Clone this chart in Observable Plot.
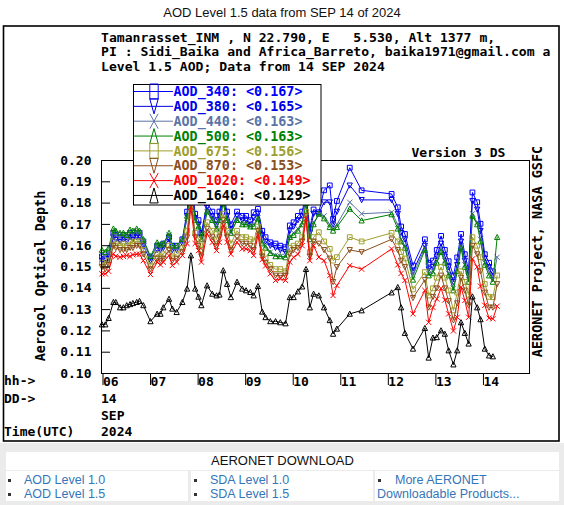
<!DOCTYPE html>
<html>
<head>
<meta charset="utf-8">
<script src="https://cdn.jsdelivr.net/npm/d3@7"></script>
<script src="https://cdn.jsdelivr.net/npm/@observablehq/plot@0.6"></script>
<style>
  body { margin:0; background:#fff; width:564px; height:505px; overflow:hidden; position:relative; }
  #title { position:absolute; left:0; top:5px; width:564px; text-align:center; font:13px 'Liberation Sans', Arial, sans-serif; line-height:15px; color:#111; }
  #chart { position:absolute; left:0; top:25px; }
  #dl { position:absolute; left:0; top:443px; width:564px; height:62px; background:#ebebeb; font-family:'Liberation Sans', Arial, sans-serif; font-size:12.5px; }
  #dl .hd { position:absolute; left:6px; top:9px; width:553px; height:18px; background:#fff; text-align:center; line-height:18px; color:#111; font-size:13px; }
  #dl .cell { position:absolute; top:28px; height:30px; background:#fff; }
  #dl .t { position:absolute; color:#3576b8; white-space:nowrap; line-height:13px; }
  #dl .b { position:absolute; width:3px; height:3px; background:#333; }
</style>
</head>
<body>
<div id="title">AOD Level 1.5 data from SEP 14 of 2024</div>
<div id="chart"></div>
<div id="dl">
  <div class="hd">AERONET DOWNLOAD</div>
  <div class="cell" style="left:6px;width:182px">
    <div class="b" style="left:2px;top:8px"></div><div class="t" style="left:18px;top:3px">AOD Level 1.0</div>
    <div class="b" style="left:2px;top:22px"></div><div class="t" style="left:18px;top:17px">AOD Level 1.5</div>
  </div>
  <div class="cell" style="left:191px;width:182px">
    <div class="b" style="left:3px;top:8px"></div><div class="t" style="left:19px;top:3px">SDA Level 1.0</div>
    <div class="b" style="left:3px;top:22px"></div><div class="t" style="left:19px;top:17px">SDA Level 1.5</div>
  </div>
  <div class="cell" style="left:375px;width:184px">
    <div class="b" style="left:3px;top:8px"></div><div class="t" style="left:20px;top:3px">More AERONET</div>
    <div class="t" style="left:2px;top:17px">Downloadable Products...</div>
  </div>
</div>
<script>
// ---------- data ----------
const times = [6.01,6.08,6.15,6.25,6.30,6.39,6.46,6.53,6.60,6.66,6.74,6.80,6.88,7.03,7.17,7.24,7.30,7.42,7.49,7.58,7.70,7.80,7.88,7.97,8.04,8.10,8.22,8.33,8.42,8.48,8.56,8.64,8.72,8.85,8.96,9.04,9.13,9.20,9.29,9.38,9.45,9.55,9.66,9.76,9.87,9.96,10.04,10.13,10.22,10.30,10.38,10.46,10.57,10.68,10.80,10.87,10.95,11.22,11.47,12.10,12.23,12.30,12.38,12.55,12.80,12.88,12.97,13.05,13.14,13.22,13.30,13.40,13.48,13.56,13.64,13.72,13.80,13.90,13.97,14.06,14.15,14.23,14.32];
const aod340 = [.155,.154,.156,.166,.165,.164,.165,.164,.166,.165,.166,.166,.162,.1546,.160,.160,.161,.164,.160,.160,.163,.176,.192,.175,.172,.166,.180,.176,.172,.176,.184,.176,.170,.176,.174,.174,.172,.1757,.1773,.167,.164,.1616,.161,.160,.1593,.1695,.171,.174,.176,.184,.168,.177,.1757,.186,.1883,.1726,.181,.1966,.186,.1843,.178,.169,.1655,.1507,.163,.152,.153,.158,.1646,.158,.1527,.146,.1545,.1655,.156,.1484,.185,.1804,.1703,.156,.152,.148,null];
const aod380 = [.153,.152,.154,.164,.163,.162,.163,.162,.164,.163,.164,.164,.160,.153,.158,.158,.159,.163,.158,.158,.161,.174,.190,.173,.170,.164,.178,.174,.170,.174,.182,.174,.168,.174,.172,.172,.170,.173,.175,.165,.162,.160,.159,.158,.157,.167,.169,.172,.174,.182,.166,.175,.175,.1804,.1804,.170,.176,.1883,.1815,.1815,.175,.166,.163,.148,.160,.149,.150,.155,.161,.155,.150,.143,.151,.162,.153,.146,.181,.177,.167,.154,.150,.146,null];
const aod440 = [.156,.155,.157,.166,.165,.164,.165,.164,.166,.165,.167,.166,.162,.154,.160,.159,.160,.165,.159,.159,.162,.173,.188,.172,.169,.163,.176,.172,.168,.172,.180,.172,.166,.172,.170,.170,.169,.170,.173,.162,.160,.157,.1555,.155,.155,.164,.166,.168,.171,.180,.164,.171,.1745,.174,.170,.168,.170,.1804,.175,.1757,.170,.163,.160,.146,.159,.147,.148,.153,.159,.153,.147,.140,.149,.160,.151,.144,.175,.171,.163,.152,.148,.144,.1546];
const aod500 = [.158,.157,.159,.168,.167,.166,.166,.165,.1675,.167,.168,.167,.163,.155,.1615,.1605,.161,.166,.160,.160,.163,.174,.188,.172,.169,.163,.176,.172,.168,.172,.180,.172,.166,.172,.170,.170,.169,.169,.1727,.161,.159,.1565,.155,.155,.1545,.164,.165,.167,.170,.180,.163,.170,.175,.1728,.1687,.167,.1687,.1773,.1718,.1747,.168,.162,.159,.144,.158,.146,.147,.152,.157,.152,.146,.139,.148,.159,.150,.143,.174,.170,.162,.151,.146,.143,.164];
const aod675 = [.152,.151,.153,.162,.161,.160,.161,.160,.162,.161,.162,.162,.158,.1507,.156,.155,.156,.160,.155,.156,.159,.167,.184,.166,.163,.158,.171,.167,.163,.167,.175,.167,.161,.167,.164,.164,.163,.162,.169,.157,.154,.151,.149,.149,.148,.159,.160,.161,.164,.176,.157,.164,.1663,.162,.1585,.153,.1546,.164,.162,.166,.162,.157,.154,.1395,.1476,.1366,.140,.145,.150,.145,.139,.1296,.138,.148,.143,.137,.164,.160,.1546,.142,.136,.1358,.146];
const aod870 = [.150,.149,.151,.160,.159,.158,.158,.158,.159,.159,.160,.160,.156,.149,.154,.153,.154,.158,.153,.154,.157,.164,.181,.164,.160,.155,.168,.164,.160,.164,.172,.164,.158,.164,.161,.161,.160,.158,.167,.155,.152,.149,.146,.146,.146,.156,.158,.159,.162,.174,.155,.162,.161,.158,.154,.143,.150,.158,.157,.163,.158,.153,.150,.1355,.144,.131,.136,.140,.146,.140,.134,.125,.133,.145,.139,.132,.160,.156,.148,.138,.131,.131,.142];
const aod1020 = [.1468,.1468,.148,.1562,.155,.1546,.155,.1554,.155,.1558,.156,.156,.153,.1465,.1523,.151,.1523,.1554,.1507,.1523,.1554,.161,.178,.161,.1577,.1523,.1656,.1616,.1577,.1616,.1695,.1616,.156,.1616,.1585,.1585,.1577,.1554,.1648,.1535,.1505,.1468,.1437,.1445,.1437,.1523,.1546,.156,.160,.1726,.153,.160,.1546,.153,.146,.1366,.1413,.1507,.149,.1585,.151,.147,.1437,.128,.139,.124,.131,.135,.140,.1345,.128,.120,.1264,.1405,.1343,.1264,.1538,.150,.141,.132,.126,.1257,.1316];
const aod1640 = [.123,.123,.126,.1335,.1335,.131,.131,.132,.1325,.133,.1335,.134,.132,.1245,.128,.128,.131,.135,.1304,.1288,.1335,.1398,.1554,.1398,.136,.132,.1413,.1374,.1366,.137,.1484,.142,.1358,.143,.1398,.139,.1382,.1366,.141,.129,.1264,.1245,.1245,.124,.1235,.1358,.1358,.1385,.1408,.149,.131,.1374,.1366,.131,.125,.1186,.121,.128,.1296,.138,.1405,.131,.119,.1116,.1213,.1074,.1168,.117,.1202,.1186,.1108,.1042,.1108,.124,.119,.114,.1361,.131,.1254,.1116,.1084,.108,null];

const seriesNames = ["AOD_340","AOD_380","AOD_440","AOD_500","AOD_675","AOD_870","AOD_1020","AOD_1640"];
const seriesMeans = ["0.167","0.165","0.163","0.163","0.156","0.153","0.149","0.129"];
const yTicks = [0.10,0.11,0.12,0.13,0.14,0.15,0.16,0.17,0.18,0.19,0.20];
const xTicks = [6,7,8,9,10,11,12,13,14];
const xTickLabels = ["06","07","08","09","10","11","12","13","14"];
const headerLines = [
  "Tamanrasset_INM , N 22.790, E   5.530, Alt 1377 m,",
  "PI : Sidi_Baika and Africa_Barreto, baika1971@gmail.com a",
  "Level 1.5 AOD; Data from 14 SEP 2024"
];
const dateLabels = { hh: "hh->", dd: "DD->", day: "14", mon: "SEP", time: "Time(UTC)", year: "2024" };

// ---------- styles ----------
const colors = ["#0000ff","#0000e6","#5b74a6","#008000","#9f9f2f","#8b4e1c","#ff0000","#000000"];
const allSeries = [aod340,aod380,aod440,aod500,aod675,aod870,aod1020,aod1640];

const sq = {draw(c,s){const h=Math.sqrt(s)/2;c.moveTo(-h,-h);c.lineTo(h,-h);c.lineTo(h,h);c.lineTo(-h,h);c.closePath();}};
const triUp = {draw(c,s){const h=Math.sqrt(s)/2;c.moveTo(0,-h*1.15);c.lineTo(h*1.1,h);c.lineTo(-h*1.1,h);c.closePath();}};
const triDown = {draw(c,s){const h=Math.sqrt(s)/2;c.moveTo(0,h*1.15);c.lineTo(h*1.1,-h);c.lineTo(-h*1.1,-h);c.closePath();}};
const xMark = {draw(c,s){const h=Math.sqrt(s)/2*1.1;c.moveTo(-h,-h);c.lineTo(h,h);c.moveTo(h,-h);c.lineTo(-h,h);}};
const symbols = [sq, triDown, xMark, triUp, sq, triDown, xMark, triUp];
const legendShapes = ["sq","tdown","x","tup","sq","tdown","x","tup"];

const FONT = "'DejaVu Sans Mono', monospace";

const marks = [];
allSeries.forEach((vals, i) => {
  const data = times.map((t, j) => ({t, v: vals[j]})).filter(d => d.v != null);
  marks.push(Plot.line(data, {x: "t", y: "v", stroke: colors[i], strokeWidth: 1}));
  marks.push(Plot.dot(data, {x: "t", y: "v", stroke: colors[i], fill: "none", r: 2.7, strokeWidth: 1, symbol: symbols[i]}));
});

const plot = Plot.plot({
  width: 564,
  height: 418,
  marginLeft: 101,
  marginRight: 35,
  marginTop: 135,
  marginBottom: 70,
  style: {fontFamily: FONT, fontSize: "13px", fontWeight: "bold", background: "white", color: "black", overflow: "visible"},
  x: {domain: [6, 15]},
  y: {domain: [0.10, 0.20]},
  marks: [
    ...marks,
    Plot.frame({stroke: "black", strokeWidth: 1}),
    Plot.axisY({ticks: yTicks, tickSize: -9, tickPadding: 19, tickFormat: d3.format(".2f"), label: null, fontSize: 13, fontWeight: "bold"}),
    Plot.axisX({ticks: xTicks, tickSize: 12, tickPadding: -9, tickFormat: d => xTickLabels[xTicks.indexOf(d)], textAnchor: "start", dx: 1.5, label: null, fontSize: 13, fontWeight: "bold"})
  ]
});
document.getElementById("chart").appendChild(plot);

// ---------- decorations ----------
const svg = d3.select(plot);
svg.append("rect").attr("x", 3.5).attr("y", 1).attr("width", 555.5).attr("height", 415)
  .attr("fill", "none").attr("stroke", "black").attr("stroke-width", 1.6);

const clip = svg.append("clipPath").attr("id", "hdrclip");
clip.append("rect").attr("x", 0).attr("y", 0).attr("width", 557).attr("height", 100);

const txt = (x, y, s, opts = {}) => {
  const t = svg.append("text").attr("x", x).attr("y", y).text(s)
    .attr("font-family", FONT).attr("font-size", opts.size || 13).attr("font-weight", "bold")
    .attr("fill", opts.fill || "black").attr("text-anchor", opts.anchor || "start");
  if (opts.clip) t.attr("clip-path", "url(#hdrclip)");
  t.style("white-space", "pre");
  return t;
};

headerLines.forEach((s, i) => txt(101, 17 + i * 14.3, s, {clip: true, size: 13.1}));
txt(411.5, 131.5, "Version 3 DS");
svg.append("text").attr("transform", "translate(45,251) rotate(-90)").attr("text-anchor", "middle")
  .attr("font-family", FONT).attr("font-size", 13.5).attr("font-weight", "bold").text("Aerosol Optical Depth");
svg.append("text").attr("transform", "translate(541.5,226.5) rotate(-90)").attr("text-anchor", "middle")
  .attr("font-family", FONT).attr("font-size", 13.5).attr("font-weight", "bold").text("AERONET Project, NASA GSFC");

txt(4, 360, dateLabels.hh);
txt(4, 377.5, dateLabels.dd);
txt(101, 377.5, dateLabels.day);
txt(101, 394.5, dateLabels.mon);
txt(4, 411, dateLabels.time);
txt(101, 411, dateLabels.year);

// legend
const lg = svg.append("g");
lg.append("rect").attr("x", 133.5).attr("y", 59.5).attr("width", 187.5).attr("height", 120.5)
  .attr("fill", "white").attr("stroke", "black").attr("stroke-width", 1);
const mx = 154, hw = 4.2, hh = 7.5;
seriesNames.forEach((name, i) => {
  const cy = 66.5 + i * 14.85;
  const c = colors[i];
  lg.append("line").attr("x1", 134).attr("x2", 173).attr("y1", cy).attr("y2", cy).attr("stroke", c).attr("stroke-width", 1);
  let d;
  switch (legendShapes[i]) {
    case "sq": d = `M${mx-hw},${cy-hh}H${mx+hw}V${cy+hh}H${mx-hw}Z`; break;
    case "tdown": d = `M${mx-hw},${cy-hh}L${mx+hw},${cy-hh}L${mx},${cy+hh}Z`; break;
    case "tup": d = `M${mx},${cy-hh}L${mx+hw},${cy+hh}L${mx-hw},${cy+hh}Z`; break;
    default: d = `M${mx-hw},${cy-hh}L${mx+hw},${cy+hh}M${mx+hw},${cy-hh}L${mx-hw},${cy+hh}`;
  }
  lg.append("path").attr("d", d).attr("fill", "none").attr("stroke", c).attr("stroke-width", 1);
  lg.append("text").attr("x", 173.5).attr("y", cy + 4.6).attr("text-anchor", "start")
    .attr("font-family", FONT).attr("font-size", 13.4).attr("font-weight", "bold").attr("fill", c)
    .style("white-space", "pre").text(`${name}: <${seriesMeans[i]}>`);
});
</script>
</body>
</html>
